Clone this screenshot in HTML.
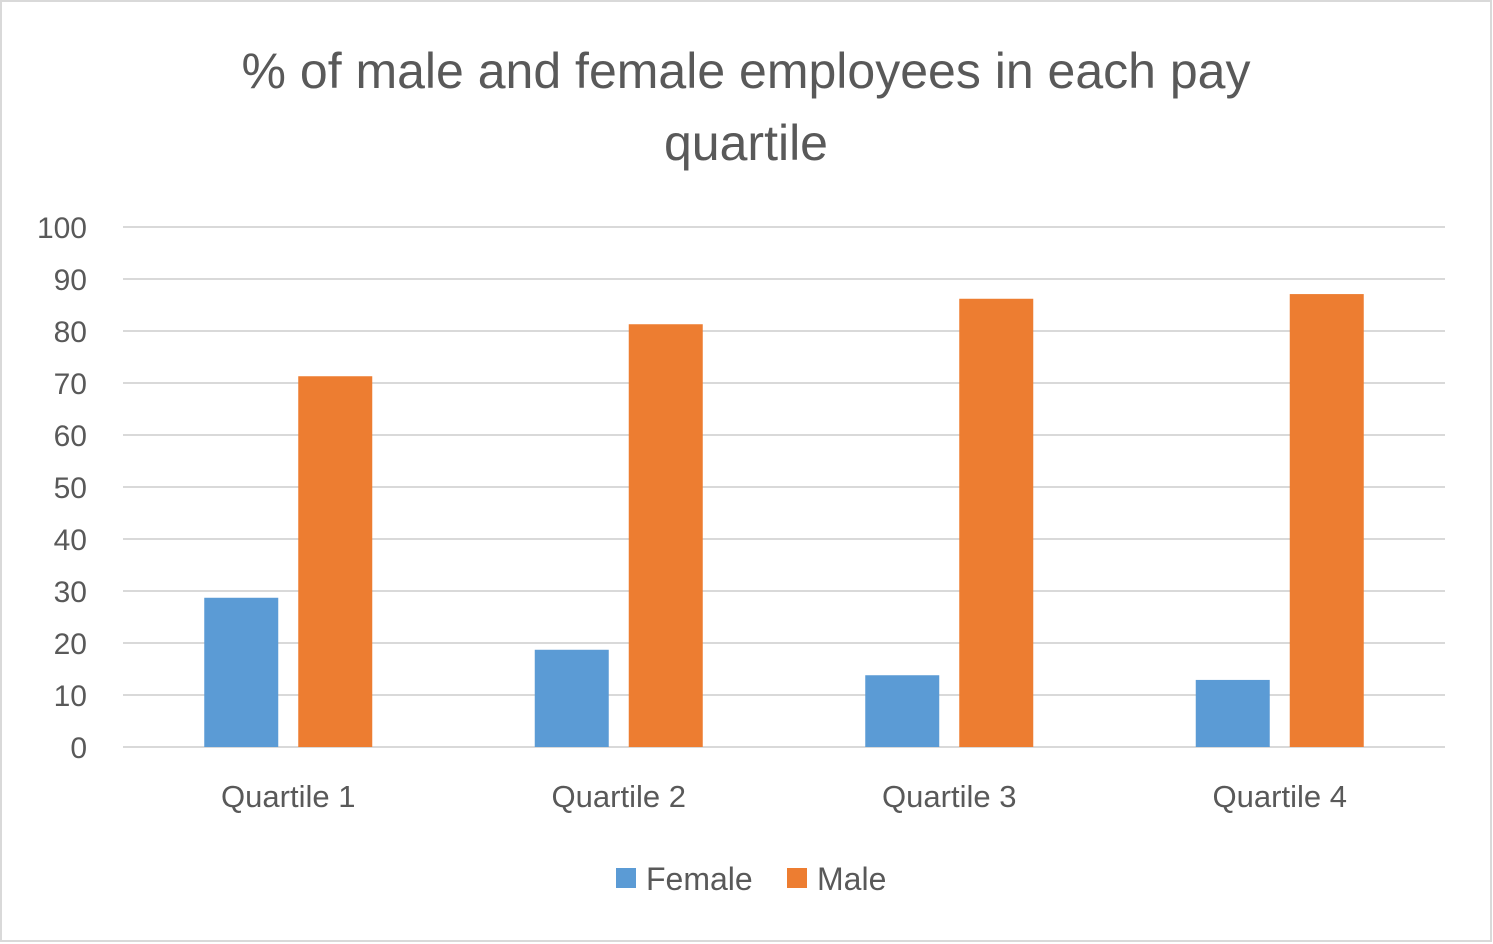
<!DOCTYPE html>
<html><head><meta charset="utf-8">
<style>
html,body{margin:0;padding:0;background:#fff;}
svg{display:block;font-family:"Liberation Sans",sans-serif;}
</style></head>
<body>
<svg id="chart" width="1493" height="944" viewBox="0 0 1493 944">
<rect x="1" y="1" width="1490" height="940" fill="#fff" stroke="#d9d9d9" stroke-width="2"/>
<text x="746" y="88" text-anchor="middle" font-size="50" fill="#595959">% of male and female employees in each pay</text>
<text x="746" y="160" text-anchor="middle" font-size="50" fill="#595959">quartile</text>
<g id="grid"></g>
<g id="bars"></g>
<g id="xlabels"></g>
<g>
<rect x="616" y="868" width="20" height="20" fill="#5b9bd5"/>
<text x="646" y="890" font-size="32" fill="#595959">Female</text>
<rect x="787" y="868" width="20" height="20" fill="#ed7d31"/>
<text x="817" y="890" font-size="32" fill="#595959">Male</text>
</g>
</svg>
<script>
const categories = ["Quartile 1","Quartile 2","Quartile 3","Quartile 4"];
const femaleValues = [28.7, 18.7, 13.8, 12.9];
const maleValues = [71.3, 81.3, 86.2, 87.1];
const yTicks = [0,10,20,30,40,50,60,70,80,90,100];

const NS="http://www.w3.org/2000/svg";
const x0=123, x1=1445, yBase=747, yTop=227, yMax=100;
const y=v=>yBase-(v/yMax)*(yBase-yTop);
const band=(x1-x0)/categories.length;
const barW=74, gap=20;
function mk(tag,attrs,parent){const e=document.createElementNS(NS,tag);for(const k in attrs)e.setAttribute(k,attrs[k]);parent.appendChild(e);return e;}
const grid=document.getElementById('grid');
yTicks.forEach(t=>{
  const l=mk('line',{x1:x0,x2:x1,y1:y(t),y2:y(t),stroke:'#d9d9d9','stroke-width':2},grid);
  
  
  const tx=mk('text',{x:87,y:y(t)+11,'text-anchor':'end','font-size':30,fill:'#595959'},grid);
  tx.textContent=t;
  
  
});
const bars=document.getElementById('bars');
const xl=document.getElementById('xlabels');
categories.forEach((c,i)=>{
  const cx=x0+band*(i+0.5);
  const f=mk('rect',{x:cx-gap/2-barW,y:y(femaleValues[i]),width:barW,height:yBase-y(femaleValues[i]),fill:'#5b9bd5'},bars);
  
  
  const m=mk('rect',{x:cx+gap/2,y:y(maleValues[i]),width:barW,height:yBase-y(maleValues[i]),fill:'#ed7d31'},bars);
  
  
  const t=mk('text',{x:cx,y:807,'text-anchor':'middle','font-size':31,fill:'#595959'},xl);
  t.textContent=c;
  
  
});
</script>
</body></html>
